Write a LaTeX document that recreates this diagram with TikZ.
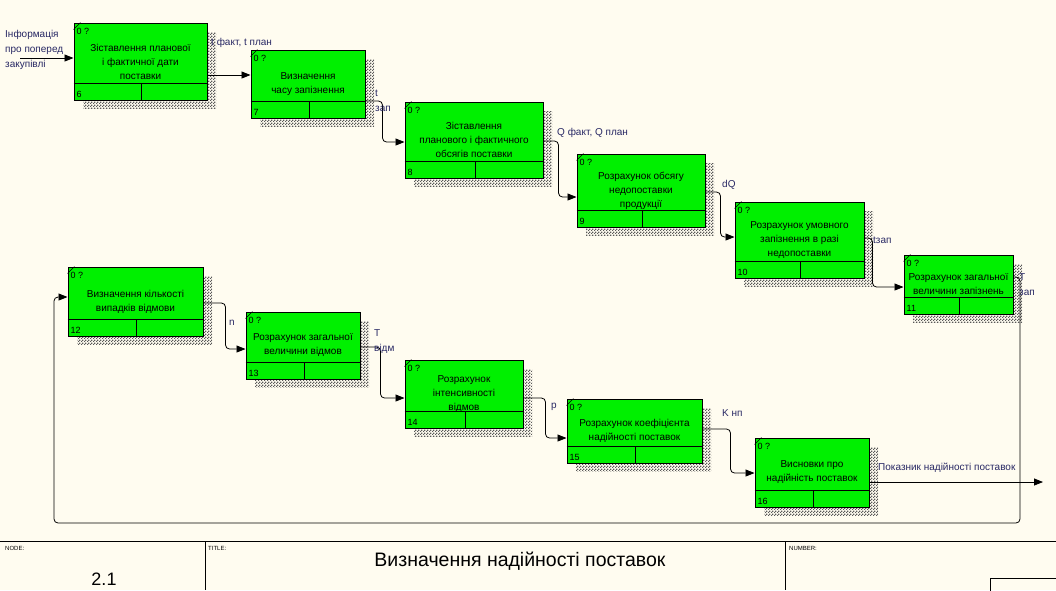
\documentclass[tikz,border=0pt]{standalone}
\usepackage{fontspec}
\setmainfont{Liberation Sans}
\usetikzlibrary{arrows.meta,patterns}

\definecolor{paper}{RGB}{255,252,240}
\definecolor{boxgreen}{RGB}{0,240,0}
\definecolor{lblblue}{RGB}{40,40,100}

\pgfdeclarepatternformonly{idefshade}{\pgfpointorigin}{\pgfpoint{3pt}{3pt}}{\pgfpoint{3pt}{3pt}}{%
  \pgfpathrectangle{\pgfpointorigin}{\pgfpoint{1.5pt}{1.5pt}}%
  \pgfpathrectangle{\pgfpoint{1.5pt}{1.5pt}}{\pgfpoint{1.5pt}{1.5pt}}%
  \pgfusepath{fill}}

\tikzset{
  act/.style={draw, line width=1pt, fill=boxgreen, align=center, font=\fontsize{10}{14}\selectfont, inner sep=0pt},
  shadowfill/.style={pattern=idefshade, pattern color=black!65},
  tag/.style={font=\fontsize{9}{10}\selectfont, inner sep=0pt},
  lbl/.style={font=\fontsize{10}{15}\selectfont, text=lblblue, inner sep=0pt, align=left},
  flow/.style={line width=0.8pt, rounded corners=4pt, -{Triangle[length=9pt,width=7pt]}},
  frametext/.style={font=\fontsize{6}{7}\selectfont, inner sep=0pt, anchor=north west}
}

\begin{document}
\begin{tikzpicture}[x=1pt, y=-1pt]
\useasboundingbox (0,0) rectangle (1056,590);
\fill[paper] (0,0) rectangle (1056,590);

% input label (drawn first, box covers it)
\node[lbl, anchor=west] (inlbl) at (5,50) {Інформація\\про поперед\\закупівлі};
\coordinate (in6) at (20,58);

% activity boxes
\foreach \n/\cx/\cy/\w/\h/\txt in {
  6/140.5/61.5/133/77/{Зіставлення планової\\і фактичної дати\\поставки},
  7/308/84/114/68/{Визначення\\часу запізнення},
  8/474/140/138/76/{Зіставлення\\планового і фактичного\\обсягів поставки},
  9/641/190.5/128/73/{Розрахунок обсягу\\недопоставки\\продукції},
  10/799.5/240/129/76/{Розрахунок умовного\\запізнення в разі\\недопоставки},
  11/958.5/284.5/109/59/{Розрахунок загальної\\величини запізнень},
  12/135.5/301.5/135/69/{Визначення кількості\\випадків відмови},
  13/303/345.5/114/67/{Розрахунок загальної\\величини відмов},
  14/464/394/118/68/{Розрахунок\\інтенсивності\\відмов},
  15/634.5/431/135/64/{Розрахунок коефіцієнта\\надійності поставок},
  16/812/472.5/114/69/{Висновки про\\надійність поставок}}{
  \fill[shadowfill] (\cx-\w/2+9,\cy-\h/2+9) rectangle (\cx+\w/2+9,\cy+\h/2+8);
  \node[act, minimum width=\w pt, minimum height=\h pt] (b\n) at (\cx,\cy) {\txt};
  \draw[line width=1pt] ([yshift=17pt]b\n.south west) -- ([yshift=17pt]b\n.south east);
  \draw[line width=1pt] ([xshift=1pt]b\n.south) -- ([xshift=1pt,yshift=17pt]b\n.south);
  \draw ([yshift=-7pt]b\n.north west) -- ([xshift=7pt]b\n.north west);
  \node[tag, anchor=north west] (z\n) at ([xshift=3pt,yshift=-6pt]b\n.north west) {0 ?};
  \node[tag, anchor=south west] (k\n) at ([xshift=3pt,yshift=3pt]b\n.south west) {\n};
}

% arrow ends
\foreach \n/\i/\o in {6/3.5/-13.5, 7/10/-17, 8/-2/-1, 9/-6.5/-1.5, 10/3/2, 11/-2.5/7.5,
  12/4.5/-1.5, 13/-3.5/-1.5, 14/-4/-4, 15/-7/2, 16/-0.5/-9.5}{
  \coordinate (i\n) at ([yshift=\i pt]b\n.west);
  \coordinate (o\n) at ([yshift=\o pt]b\n.east);
}
\coordinate (loopr) at (1020,523);
\coordinate (loopl) at (54,523);
\coordinate (out16) at (1043,482);

% connectors
\draw[flow] (in6) -- (i6);
\draw[flow] (o6) -- (o6 -| b7.west);
\draw[flow] (o7) -- ++(17,0) |- (i8);
\draw[flow] (o8) -- ++(15,0) |- (i9);
\draw[flow] (o9) -- ++(15,0) |- (i10);
\draw[flow] (o10) -- ++(8,0) |- (i11);
\draw[flow] (o11) -| (loopr) -- (loopl) |- (i12);
\draw[flow] (o12) -- ++(22,0) |- (i13);
\draw[flow] (o13) -- ++(20,0) |- (i14);
\draw[flow] (o14) -- ++(22,0) |- (i15);
\draw[flow] (o15) -- ++(28,0) |- (i16);
\draw[flow] (o16) -- (out16);

% arrow labels
\node[lbl, anchor=west] (l7) at (211,43) {t факт, t план};
\node[lbl, anchor=west] (l8) at (375,101) {t\\зап};
\node[lbl, anchor=west] (l9) at (557,133) {Q факт, Q план};
\node[lbl, anchor=west] (l10) at (722,185) {dQ};
\node[lbl, anchor=west] (l11) at (873,240) {tзап};
\node[lbl, anchor=west] (l12) at (1019,285) {T\\зап};
\node[lbl, anchor=west] (l13) at (229,323) {n};
\node[lbl, anchor=west] (l14) at (374,342) {T\\відм};
\node[lbl, anchor=west] (l15) at (551,407) {p};
\node[lbl, anchor=west] (l16) at (722,413) {K нп};
\node[lbl, anchor=west] (lout) at (878,468) {Показник надійності поставок};

% title block
\draw (0,541) -- (1056,541);
\draw (205,541) -- (205,590);
\draw (785,541) -- (785,590);
\draw (990,578) rectangle (1070,600);
\node[frametext] (fnode) at (5,546) {NODE:};
\node[frametext] (ftitle) at (208,546) {TITLE:};
\node[frametext] (fnum) at (789,546) {NUMBER:};
\node[font=\fontsize{19.5}{21}\selectfont] (title) at (520,561) {Визначення надійності поставок};
\node[font=\fontsize{18}{20}\selectfont] (nodeno) at (104,579) {2.1};
\end{tikzpicture}
\end{document}
